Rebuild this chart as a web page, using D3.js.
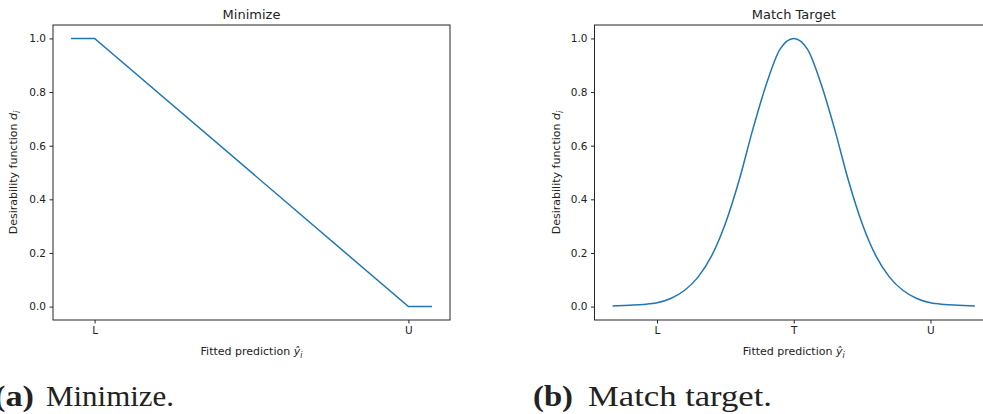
<!DOCTYPE html>
<html>
<head>
<meta charset="utf-8">
<script src="https://cdn.jsdelivr.net/npm/d3@7"></script>
<style>
  body { margin: 0; background: #fff; }
  svg { display: block; }
  text { font-family: "DejaVu Sans", sans-serif; fill: #222; }
</style>
</head>
<body>
<svg id="chart" width="983" height="414"></svg>
<script>
// minimize desirability: flat at 1 before L, linear down to 0 at U, flat after
const minX = [0.85, 1, 3, 3.15];
const minY = [1, 1, 0, 0];
const minTicks = [1, 3];
const minTickLabels = ['L', 'U'];

// match target: bell-shaped
const matchX = [-1.325, -1.2, -1.1, -1.0, -0.9, -0.8, -0.7, -0.6, -0.5, -0.4, -0.3, -0.2, -0.1, 0,
                0.1, 0.2, 0.3, 0.4, 0.5, 0.6, 0.7, 0.8, 0.9, 1.0, 1.1, 1.2, 1.325];
const matchY = [0.002, 0.005, 0.008, 0.014, 0.03, 0.06, 0.11, 0.19, 0.31, 0.47, 0.66, 0.83, 0.96, 1.0,
                0.96, 0.83, 0.66, 0.47, 0.31, 0.19, 0.11, 0.06, 0.03, 0.014, 0.008, 0.005, 0.002];
const matchTicks = [-1, 0, 1];
const matchTickLabels = ['L', 'T', 'U'];

const yTicks = [0, 0.2, 0.4, 0.6, 0.8, 1.0];

const svg = d3.select('#chart');

function drawPanel(opts) {
  const xs = opts.xs, ys = opts.ys;
  const xExt = d3.extent(xs);
  const xPad = (xExt[1] - xExt[0]) * 0.05;
  const x = d3.scaleLinear().domain([xExt[0] - xPad, xExt[1] + xPad]).range([opts.left, opts.right]);
  const y = d3.scaleLinear().domain([-0.05, 1.05]).range([opts.bottom, opts.top]);

  const g = svg.append('g');

  // curve
  const line = d3.line()
    .x((d, i) => x(xs[i]))
    .y((d, i) => y(ys[i]))
    .curve(opts.curve);
  g.append('path')
    .datum(xs)
    .attr('d', line)
    .attr('fill', 'none')
    .attr('stroke', '#1f77b4')
    .attr('stroke-width', 1.5);

  // frame
  g.append('rect')
    .attr('x', opts.left).attr('y', opts.top)
    .attr('width', opts.right - opts.left)
    .attr('height', opts.bottom - opts.top)
    .attr('fill', 'none')
    .attr('stroke', '#262626')
    .attr('stroke-width', 1);

  // y axis
  const yAxis = d3.axisLeft(y).tickValues(yTicks).tickFormat(d3.format('.1f'))
    .tickSize(3.5).tickPadding(3.5);
  const ya = g.append('g').attr('transform', `translate(${opts.left},0)`).call(yAxis);
  ya.select('.domain').remove();
  ya.selectAll('line').attr('stroke', '#262626');
  ya.selectAll('text').style('font-size', '10.5px').attr('fill', '#222');

  // x axis
  const xAxis = d3.axisBottom(x).tickValues(opts.ticks).tickFormat((d, i) => opts.tickLabels[i])
    .tickSize(3.5).tickPadding(3.5);
  const xa = g.append('g').attr('transform', `translate(0,${opts.bottom})`).call(xAxis);
  xa.select('.domain').remove();
  xa.selectAll('line').attr('stroke', '#262626');
  xa.selectAll('text').style('font-size', '10.5px').attr('fill', '#222');

  const cx = (opts.left + opts.right) / 2;

  // title
  g.append('text')
    .attr('x', cx).attr('y', 18.5)
    .attr('text-anchor', 'middle')
    .style('font-size', '13px')
    .text(opts.title);

  // x label
  const xl = g.append('text')
    .attr('x', cx).attr('y', 355)
    .attr('text-anchor', 'middle')
    .style('font-size', '11px');
  xl.append('tspan').text('Fitted prediction ');
  xl.append('tspan').style('font-style', 'italic').text('ŷ');
  xl.append('tspan').style('font-style', 'italic').style('font-size', '8px')
    .attr('dy', 3).text('i');

  // y label
  const yl = g.append('text')
    .attr('transform', `translate(${opts.ylabelX},${y(0.5)}) rotate(-90)`)
    .attr('text-anchor', 'middle')
    .style('font-size', '11px');
  yl.append('tspan').text('Desirability function ');
  yl.append('tspan').style('font-style', 'italic').text('d');
  yl.append('tspan').style('font-style', 'italic').style('font-size', '8px')
    .attr('dy', 3).text('i');

  // caption
  const cap = svg.append('g');
  cap.append('text')
    .attr('x', opts.capX).attr('y', 406)
    .style('font-family', '"Liberation Serif", serif')
    .style('font-size', '30px').style('font-weight', 'bold')
    .attr('textLength', 40).attr('lengthAdjust', 'spacingAndGlyphs')
    .text(opts.capTag);
  cap.append('text')
    .attr('x', opts.capTextX).attr('y', 406)
    .style('font-family', '"Liberation Serif", serif')
    .style('font-size', '30px')
    .attr('textLength', opts.capLen).attr('lengthAdjust', 'spacingAndGlyphs')
    .text(opts.caption);
}

drawPanel({
  xs: minX, ys: minY, ticks: minTicks, tickLabels: minTickLabels,
  left: 53, right: 450, top: 25, bottom: 320,
  curve: d3.curveLinear, title: 'Minimize', ylabelX: 17,
  capX: -6, capTag: '(a)', capTextX: 46, caption: 'Minimize.', capLen: 128
});

drawPanel({
  xs: matchX, ys: matchY, ticks: matchTicks, tickLabels: matchTickLabels,
  left: 594.5, right: 993, top: 25, bottom: 320,
  curve: d3.curveMonotoneX, title: 'Match Target', ylabelX: 560,
  capX: 533, capTag: '(b)', capTextX: 588, caption: 'Match target.', capLen: 184
});
</script>
</body>
</html>
